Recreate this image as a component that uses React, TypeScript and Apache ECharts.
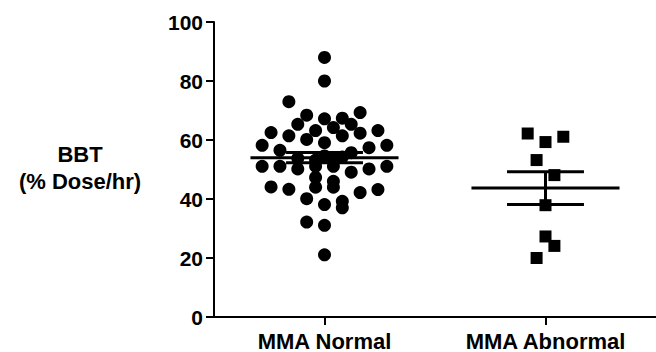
import React, { useEffect, useRef } from "react";
import * as echarts from "echarts";

const categories = ["MMA Normal", "MMA Abnormal"];

const normalValues = [
  88, 80, 73, 68.4, 69.3, 67.2, 67.4, 65.3, 65.3, 64.2, 63.2, 62.5, 63.2, 61.4, 62.3, 61.4, 60.2,
  58.2, 59.1, 58.2, 57.4, 56.5, 55.7,
  53.8, 53.2, 54.6, 53.5, 54.2,
  51.1, 51.1, 50.2, 51.1, 51.1, 49.1, 50.2, 51.1,
  47.3, 44, 46, 44, 44.1, 43.3, 43.2, 42.2, 40.1, 38.1, 39.2, 37, 32.2, 31.1, 21.1,
];
const normalJitter = [
  0, 0, -4, -2, 4, 0, 2, -3, 3, 1, -1, -6, 6, -4, 4, 2, -2,
  -7, 0, 7, 5, -5, 3,
  -3, -1, 0, 1, 2,
  -7, -5, -3, -1, 1, 3, 5, 7,
  -1, -1, 1, 1, -6, -4, 6, 4, -2, 0, 2, 2, -2, 0, 0,
];

const abnormalValues = [62.2, 59.3, 61.1, 53.2, 48.1, 37.9, 27.3, 24.1, 20.0];
const abnormalJitter = [-2, 0, 2, -1, 1, 0, 0, 1, -1];

const yMin = 0;
const yMax = 100;
const yInterval = 20;

const JITTER_STEP = 0.0403;
const MEAN_HALF = 0.335;
const SEM_HALF = 0.174;
const FONT = '"Liberation Sans", Arial, Helvetica, sans-serif';

function meanSem(vals: number[]) {
  const n = vals.length;
  const m = vals.reduce((a, b) => a + b, 0) / n;
  const v = vals.reduce((a, b) => a + (b - m) * (b - m), 0) / (n - 1);
  return [m, Math.sqrt(v) / Math.sqrt(n)];
}

export default function App() {
  const ref = useRef<HTMLDivElement>(null);
  useEffect(() => {
    document.body.style.margin = "0";
    const chart = echarts.init(ref.current!, null, { renderer: "svg" });
    const normalData = normalValues.map((v, i) => [0 + normalJitter[i] * JITTER_STEP, v]);
    const abnormalData = abnormalValues.map((v, i) => [1 + abnormalJitter[i] * JITTER_STEP, v]);
    const [m0, s0] = meanSem(normalValues);
    const [m1, s1] = meanSem(abnormalValues);
    const statData = [
      [0, m0, s0],
      [1, m1, s1],
    ];
    chart.setOption({
      animation: false,
      grid: { left: 214, right: 0, top: 22, bottom: 35, containLabel: false },
      xAxis: [
        {
          type: "category",
          data: categories,
          boundaryGap: true,
          axisLine: { show: true, onZero: false, lineStyle: { color: "#000", width: 2 } },
          axisTick: { show: true, alignWithLabel: true, length: 8, lineStyle: { color: "#000", width: 2 } },
          axisLabel: {
            color: "#000",
            fontWeight: "bold",
            fontSize: 22,
            fontFamily: FONT,
            margin: 13,
          },
          splitLine: { show: false },
        },
        {
          type: "value",
          show: false,
          min: -0.5,
          max: 1.5,
          position: "bottom",
          axisLine: { show: false, onZero: false },
          splitLine: { show: false },
        },
      ],
      yAxis: {
        type: "value",
        min: yMin,
        max: yMax,
        interval: yInterval,
        axisLine: { show: true, onZero: false, lineStyle: { color: "#000", width: 2 } },
        axisTick: { show: true, length: 8, lineStyle: { color: "#000", width: 2 } },
        axisLabel: {
          color: "#000",
          fontWeight: "bold",
          fontSize: 21,
          fontFamily: FONT,
          margin: 11,
        },
        splitLine: { show: false },
      },
      graphic: [
        {
          type: "text",
          x: 80,
          y: 141,
          style: {
            text: "BBT\n(% Dose/hr)",
            fill: "#000",
            fontSize: 22,
            fontWeight: "bold",
            fontFamily: FONT,
            lineHeight: 27,
            align: "center",
            textAlign: "center",
            verticalAlign: "top",
            textVerticalAlign: "top",
          },
        },
      ],
      series: [
        {
          type: "scatter",
          xAxisIndex: 1,
          yAxisIndex: 0,
          symbol: "circle",
          symbolSize: 13,
          itemStyle: { color: "#000", opacity: 1 },
          data: normalData,
        },
        {
          type: "scatter",
          xAxisIndex: 1,
          yAxisIndex: 0,
          symbol: "rect",
          symbolSize: 12,
          itemStyle: { color: "#000", opacity: 1 },
          data: abnormalData,
        },
        {
          type: "custom",
          xAxisIndex: 1,
          yAxisIndex: 0,
          z: 5,
          encode: { x: 0, y: 1 },
          data: statData,
          renderItem: (params: any, api: any) => {
            const g = api.value(0);
            const m = api.value(1);
            const s = api.value(2);
            const ml = api.coord([g - MEAN_HALF, m]);
            const mr = api.coord([g + MEAN_HALF, m]);
            const tl = api.coord([g - SEM_HALF, m + s]);
            const tr = api.coord([g + SEM_HALF, m + s]);
            const bl = api.coord([g - SEM_HALF, m - s]);
            const br = api.coord([g + SEM_HALF, m - s]);
            const vt = api.coord([g, m + s]);
            const vb = api.coord([g, m - s]);
            const st = { stroke: "#000", lineWidth: 3 };
            return {
              type: "group",
              children: [
                { type: "line", shape: { x1: ml[0], y1: ml[1], x2: mr[0], y2: mr[1] }, style: st },
                { type: "line", shape: { x1: tl[0], y1: tl[1], x2: tr[0], y2: tr[1] }, style: st },
                { type: "line", shape: { x1: bl[0], y1: bl[1], x2: br[0], y2: br[1] }, style: st },
                { type: "line", shape: { x1: vt[0], y1: vt[1], x2: vb[0], y2: vb[1] }, style: st },
              ],
            };
          },
        },
      ],
    });
    return () => chart.dispose();
  }, []);
  return <div ref={ref} style={{ width: 656, height: 352 }} />;
}
